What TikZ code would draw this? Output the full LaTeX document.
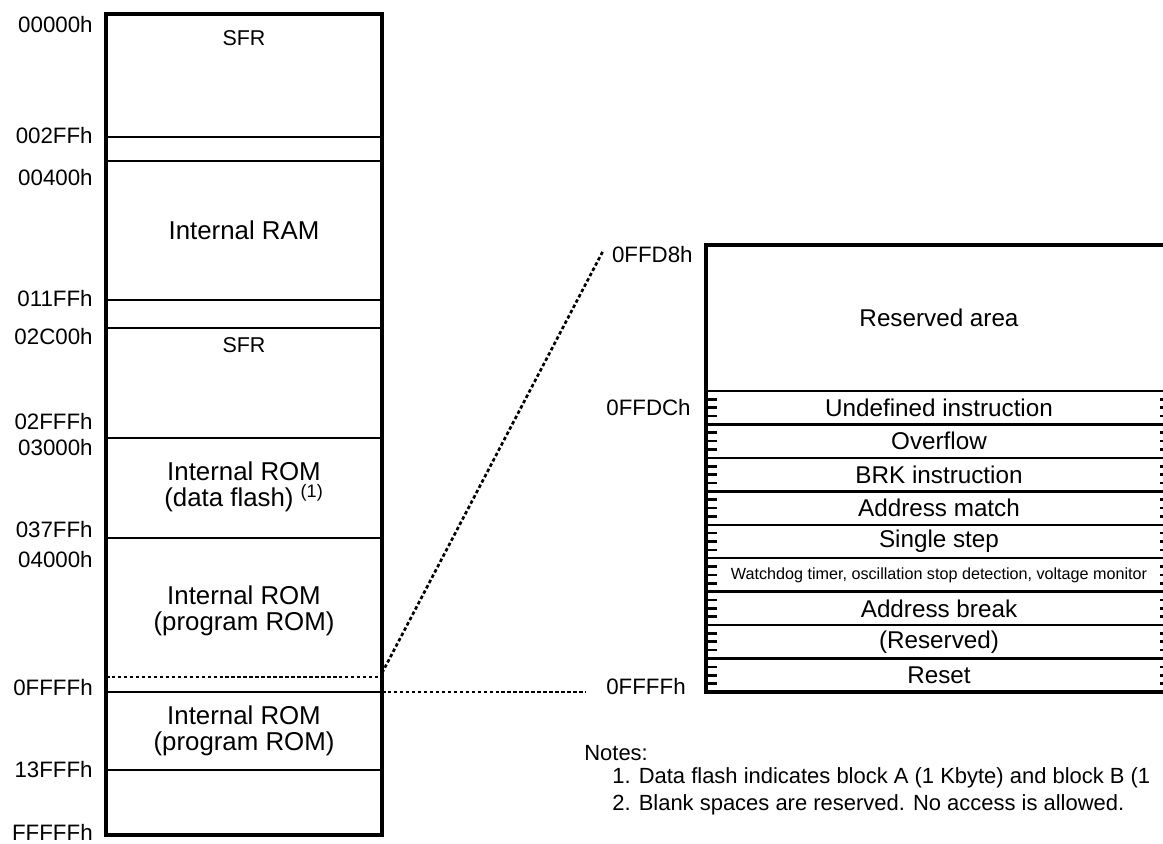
\documentclass[tikz,border=0pt]{standalone}
\usepackage{fontspec}
\setmainfont{Liberation Sans}

\begin{document}
\begin{tikzpicture}[x=0.02cm,y=-0.02cm,
	addr/.style={anchor=east,inner sep=0pt,font=\fontsize{12.7}{14}\selectfont},
	area/.style={align=center,inner sep=0pt,font=\fontsize{14.7}{15}\selectfont},
	sfr/.style={inner sep=0pt,font=\fontsize{12.2}{14}\selectfont},
	vec/.style={inner sep=0pt,font=\fontsize{13.8}{15}\selectfont},
	wd/.style={inner sep=0pt,font=\fontsize{9.2}{11}\selectfont},
	note/.style={anchor=west,inner sep=0pt,font=\fontsize{12.5}{14}\selectfont},
	zoomline/.style={line width=1.5pt,dash pattern=on 2pt off 1.4pt}]
\useasboundingbox (0,0) rectangle (1163,843);
\clip (0,0) rectangle (1163,843);

\def\row#1{391+33.44*#1}

\coordinate (zs) at (382,673);
\coordinate (ze) at (603,251);
\coordinate (hs) at (382,692);
\coordinate (he) at (586,692);

\foreach \y in {137,300,328,438,692}{
	\draw[line width=1.3pt] (106,\y) -- (382,\y);
}
\foreach \y in {161,538,770}{
	\draw[line width=0.8pt] (106,\y) -- (382,\y);
}
\draw[zoomline] (106,677) -- (382,677);
\draw[line width=1.9pt] (106,14) rectangle (382,835);

\foreach \t/\y in {00000h/25,002FFh/136,00400h/178,011FFh/299,02C00h/337,
	02FFFh/422,03000h/448,037FFh/530,04000h/560,0FFFFh/688,13FFFh/770,FFFFFh/832}{
	\node[addr] (l\t) at (93,\y) {\t};
}

\node[sfr] (sfra) at (244,38) {SFR};
\node[area] (ram) at (244,230) {Internal RAM};
\node[sfr] (sfrb) at (244,345) {SFR};
\node[area] (dflash) at (244,487) {Internal ROM\\(data flash) \textsuperscript{(1)}};
\node[area] (progA) at (244,611) {Internal ROM\\(program ROM)};
\node[area] (progB) at (244,731) {Internal ROM\\(program ROM)};

\draw[zoomline] (zs) -- (ze);
\draw[zoomline] (hs) -- (he);

\foreach \i in {0,...,8}{
	\draw[line width=1.4pt] (706,{\row{\i}}) -- (1172,{\row{\i}});
	\foreach \k in {0.25,0.5,0.75}{
		\draw[line width=1.5pt] (706,{\row{(\i+\k)}}) -- ++(11,0);
		\draw[line width=1.5pt] (1172,{\row{(\i+\k)}}) -- ++(-12,0);
	}
}
\draw[line width=1.9pt] (706,245) rectangle (1172,692);

\node[addr] (r0FFD8h) at (693,255) {0FFD8h};
\node[addr] (r0FFDCh) at (691,408) {0FFDCh};
\node[addr] (r0FFFFh) at (686,687) {0FFFFh};

\node[vec] (resarea) at (939,318) {Reserved area};
\foreach \s/\t [count=\i from 0] in {vec/Undefined instruction,vec/Overflow,
	vec/BRK instruction,vec/Address match,vec/Single step,
	wd/{Watchdog timer, oscillation stop detection, voltage monitor},
	vec/Address break,vec/(Reserved),vec/Reset}{
	\node[\s] (v\i) at (939,{\row{(\i+0.5)}}) {\t};
}

\node[note] (notes) at (584,753) {Notes:};
\node[note] (note1) at (612,778) {1. Data flash indicates block A (1 Kbyte) and block B (1};
\node[note] (note2) at (612,805) {2. Blank spaces are reserved. No access is allowed.};

\end{tikzpicture}
\end{document}
